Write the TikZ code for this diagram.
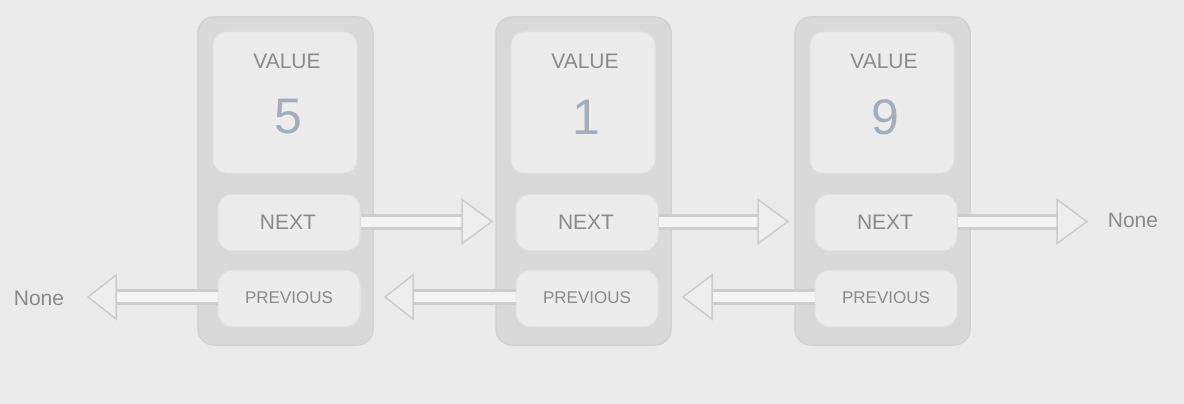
\documentclass[tikz,border=0pt]{standalone}
\usepackage{fontspec}
\setmainfont{Liberation Sans}
\definecolor{bg}{HTML}{EBEBEB}
\definecolor{outerc}{HTML}{D9D9D9}
\definecolor{outerd}{HTML}{D2D2D2}
\definecolor{innerc}{HTML}{ECECEC}
\definecolor{innerd}{HTML}{E2E2E2}
\definecolor{lblc}{HTML}{8A8A8A}
\definecolor{numc}{HTML}{A3AEBA}
\definecolor{arrc}{HTML}{CDCDCD}
\definecolor{shaftin}{HTML}{F4F4F4}
\definecolor{headin}{HTML}{EEEEEE}
\tikzset{
  outerbox/.style={fill=outerc, draw=outerd, line width=1.5pt, rounded corners=16pt, minimum width=175pt, minimum height=328pt, inner sep=0pt},
  valbox/.style={fill=innerc, draw=innerd, line width=1pt, rounded corners=13pt, minimum width=144pt, minimum height=141pt, inner sep=0pt},
  fieldbox/.style={fill=innerc, draw=innerd, line width=1pt, rounded corners=14pt, minimum width=142pt, minimum height=56pt, inner sep=0pt},
  lbl/.style={text=lblc, font=\fontsize{21}{24}\selectfont, inner sep=0pt},
  smlbl/.style={text=lblc, font=\fontsize{17}{20}\selectfont, inner sep=0pt},
  num/.style={text=numc, font=\fontsize{50}{54}\selectfont, inner sep=0pt},
  shaft/.style={draw=arrc, line width=3pt, double=shaftin, double distance=10pt},
  headtri/.style={draw=arrc, line width=1.5pt, fill=headin, line join=miter}
}
\begin{document}
\begin{tikzpicture}[x=1pt,y=-1pt]
\fill[bg] (0,0) rectangle (1184,404);
\useasboundingbox (0,0) rectangle (1184,404);
\foreach \i/\dx/\v in {1/0/5, 2/298/1, 3/597/9}{
  \node[outerbox] (o\i) at (285.5+\dx,181) {};
  \node[valbox] (vb\i) at (285+\dx,102.5) {};
  \node[lbl] (vl\i) at (287+\dx,61) {VALUE};
  \node[num] (vn\i) at (288+\dx,117) {\v};
  \node[fieldbox] (nx\i) at (289+\dx,222.5) {};
  \node[lbl] (nxl\i) at (288+\dx,222) {NEXT};
  \node[fieldbox] (pv\i) at (289+\dx,298.5) {};
  \node[smlbl] (pvl\i) at (289+\dx,298) {PREVIOUS};
}
\node[lbl] (noneR) at (1133,220) {None};
\node[lbl] (noneL) at (39,298) {None};
% next arrows
\coordinate (nb1) at (462,221.5);  \coordinate (nt1) at (492,221.5);
\coordinate (nb2) at (758,221.5);  \coordinate (nt2) at (788,221.5);
\coordinate (nb3) at (1057,221.5); \coordinate (nt3) at (1087,221.5);
% previous arrows
\coordinate (pb1) at (116,297);  \coordinate (pt1) at (88,297);
\coordinate (pb2) at (413,297);  \coordinate (pt2) at (385,297);
\coordinate (pb3) at (712,297);  \coordinate (pt3) at (683,297);
\foreach \i in {1,2,3}{
  \draw[shaft] (nx\i.east |- nb\i) -- (nb\i);
  \draw[headtri] ([yshift=22pt]nb\i) -- (nt\i) -- ([yshift=-22pt]nb\i) -- cycle;
  \draw[shaft] (pv\i.west |- pb\i) -- (pb\i);
  \draw[headtri] ([yshift=22pt]pb\i) -- (pt\i) -- ([yshift=-22pt]pb\i) -- cycle;
}
\end{tikzpicture}
\end{document}
